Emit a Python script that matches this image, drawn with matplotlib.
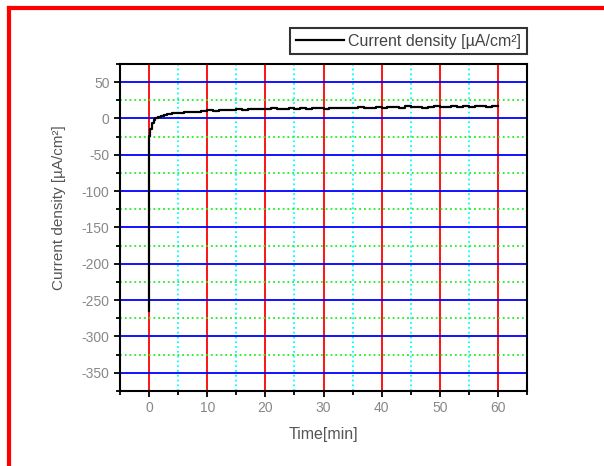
import numpy as np
import matplotlib.pyplot as plt
from matplotlib.ticker import MultipleLocator
from matplotlib.lines import Line2D

plt.rcParams['font.family'] = ['Liberation Sans', 'DejaVu Sans']
plt.rcParams['axes.unicode_minus'] = False

# time [min] and current density [uA/cm2]
time_min = [0, 0, 0.2, 0.5, 0.8, 1, 1.5, 2, 2.5, 3, 3.5, 4, 5, 6, 7, 8, 9,
            10, 11, 12, 13, 14, 15, 16, 17, 18, 19, 20, 21, 22, 23, 24, 25,
            26, 27, 28, 29, 30, 31, 32, 33, 34, 35, 36, 37, 38, 39, 40, 41,
            42, 43, 44, 45, 46, 47, 48, 49, 50, 51, 52, 53, 54, 55, 56, 57,
            58, 59, 60]
current = [-265, -24, -14, -6, -2, 0, 2, 4, 5, 5.5, 6.5, 7, 8, 8.5, 9, 8.5, 10,
           11, 10, 11.5, 12, 11, 12.5, 12, 13, 12.5, 13.5, 13, 14, 12.5, 13.5, 14, 13,
           14.5, 13.5, 14, 15, 13.5, 14.5, 15, 14, 15, 14.5, 15.5, 14.5, 15, 16, 15,
           15.5, 16, 15, 16.5, 15.5, 16, 15, 16, 16.5, 15.5, 16, 17, 16, 16.5, 15.5,
           16.5, 17, 16, 17, 16.5]

fig = plt.figure(figsize=(6.04, 4.66), dpi=100)
ax = fig.add_axes([0.1987, 0.161, 0.6738, 0.7017])

ax.plot(time_min, current, color='black', lw=1.6, drawstyle='steps-post',
        label='Current density [\u00b5A/cm\u00b2]', zorder=5)

ax.set_xlim(-5, 65)
ax.set_ylim(-375, 75)
ax.xaxis.set_major_locator(MultipleLocator(10))
ax.xaxis.set_minor_locator(MultipleLocator(5))
ax.yaxis.set_major_locator(MultipleLocator(50))
ax.yaxis.set_minor_locator(MultipleLocator(25))

ax.grid(which='major', axis='x', color='red', lw=1.3, ls='-')
ax.grid(which='minor', axis='x', color='cyan', lw=1.3, ls=':')
ax.grid(which='major', axis='y', color='blue', lw=1.3, ls='-')
ax.grid(which='minor', axis='y', color='#22ee22', lw=1.3, ls=':')
ax.set_axisbelow(True)

for s in ax.spines.values():
    s.set_linewidth(1.5)
ax.tick_params(which='both', direction='out', width=1.3, colors='black',
               labelcolor='#888888', labelsize=10, top=False, right=False)
ax.tick_params(which='major', length=4)
ax.tick_params(which='minor', length=3)

ax.set_xlabel('Time[min]', color='#555555', fontsize=11.5, labelpad=8)
ax.set_ylabel('Current density [\u00b5A/cm\u00b2]', color='#555555', fontsize=11)
ax.yaxis.set_label_coords(-0.132, 0.56)

leg = ax.legend(loc='lower right', bbox_to_anchor=(1.0, 1.03), frameon=True,
                fancybox=False, edgecolor='black', fontsize=11.5, handlelength=3.0,
                borderpad=0.35, handletextpad=0.3, borderaxespad=0)
leg.get_frame().set_linewidth(1.5)
for txt in leg.get_texts():
    txt.set_color('#444444')

# red frame around the image
fig.add_artist(Line2D([9 / 604, 1], [1 - 8 / 466, 1 - 8 / 466], color='red', lw=3,
                      transform=fig.transFigure))
fig.add_artist(Line2D([9 / 604, 9 / 604], [0, 1 - 8 / 466], color='red', lw=3,
                      transform=fig.transFigure))

fig.savefig('out.png', dpi=100)
